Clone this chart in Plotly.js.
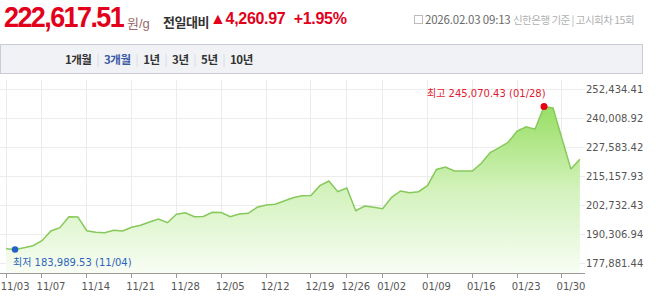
<!DOCTYPE html>
<html>
<head>
<meta charset="utf-8">
<script src="https://cdn.plot.ly/plotly-3.0.1.min.js"></script>
<style>
  html, body { margin:0; padding:0; width:658px; height:300px; overflow:hidden; background:#fff; }
  #chart { position:absolute; left:0; top:0; width:658px; height:300px; }
  .hdr { position:absolute; white-space:nowrap; font-family:"Liberation Sans", Arial, "Noto Sans CJK KR", sans-serif; }
  #price { left:4px; top:1px; font-size:29px; font-weight:bold; color:#e3001b; letter-spacing:-1.7px; transform:scaleX(0.93); transform-origin:left top; }
  #unit { left:127px; top:13px; font-size:13px; color:#9a6a6a; }
  #cmp { left:163px; top:12px; font-size:13px; color:#333; font-family:"Noto Sans CJK KR", sans-serif; font-weight:bold; letter-spacing:-0.5px; }
  #chg { left:210px; top:10px; font-size:16px; font-weight:bold; color:#e3001b; letter-spacing:-0.3px; }
  #time { left:414px; top:11px; font-size:11.5px; color:#6a6a6a; font-family:"Noto Sans CJK KR", sans-serif; letter-spacing:-0.2px; }
  #time .ico { display:inline-block; width:7px; height:7px; border:1px solid #bbb; margin-right:2px; vertical-align:0px; }
  #time .lt { color:#b0b0b0; font-size:10.5px; letter-spacing:-0.5px; }
  #tabs { position:absolute; left:0; top:44px; width:321px; height:28px; background:#f1f2f6; border:1px solid #c9ccd6; }
  #tabs2 { position:absolute; left:322px; top:44px; width:320px; height:28px; background:#f1f2f6; border:1px solid #c9ccd6; border-left:none; }
  #tabtxt { position:absolute; left:65px; top:51px; font-family:"Noto Sans CJK KR", sans-serif; font-size:11.5px; font-weight:bold; color:#333; white-space:nowrap; letter-spacing:-0.5px; }
  #tabtxt .on { color:#3b5aa8; }
  #tabtxt .sep { color:#d5d7de; font-weight:normal; margin:0 5px; }
</style>
</head>
<body>
<div id="chart"></div>
<div class="hdr" id="price">222,617.51</div>
<div class="hdr" id="unit">원/g</div>
<div class="hdr" id="cmp">전일대비</div>
<div class="hdr" id="chg">▲4,260.97&nbsp; +1.95%</div>
<div class="hdr" id="time"><span class="ico"></span>2026.02.03 09:13 <span class="lt">신한은행 기준 | 고시회차 15회</span></div>
<div id="tabs"></div>
<div id="tabs2"></div>
<div id="tabtxt">1개월<span class="sep">|</span><span class="on">3개월</span><span class="sep">|</span>1년<span class="sep">|</span>3년<span class="sep">|</span>5년<span class="sep">|</span>10년</div>
<script>
// Trading days (MM/DD)
const dates = [
  '11/03','11/04','11/05','11/06','11/07','11/10','11/11','11/12','11/13','11/14',
  '11/17','11/18','11/19','11/20','11/21','11/24','11/25','11/26','11/27','11/28',
  '12/01','12/02','12/03','12/04','12/05','12/08','12/09','12/10','12/11','12/12',
  '12/15','12/16','12/17','12/18','12/19','12/22','12/23','12/24','12/26','12/29',
  '12/30','12/31','01/02','01/05','01/06','01/07','01/08','01/09','01/12','01/13',
  '01/14','01/15','01/16','01/19','01/20','01/21','01/22','01/23','01/26','01/27',
  '01/28','01/29','01/30','02/02','02/03'
];
// Gold price (KRW per gram)
const prices = [
  184370, 183989.53, 184797, 185651, 187786, 191928, 193337, 198034, 197950, 192056,
  191373, 191202, 192227, 191928, 193508, 194362, 195771, 197052, 195472, 199059,
  199742, 198034, 198150, 199913, 199850, 198034, 199187, 199486, 202048, 203030,
  203329, 204738, 206147, 206958, 207050, 211271, 213278, 208709, 210289, 200596,
  202603, 202048, 201450, 206318, 209008, 208282, 208709, 211271, 218189, 219256,
  217548, 217500, 217560, 220836, 225448, 227497, 229803, 234628, 236464, 235397,
  245070.43, 244492, 231212, 218356.54, 222617.51
];
const xTickDates = ['11/03','11/07','11/14','11/21','11/28','12/05','12/12','12/19','12/26','01/02','01/09','01/16','01/23','01/30'];
const yTickVals = [177881.44, 190306.94, 202732.43, 215157.93, 227583.42, 240008.92, 252434.41];
const yTickText = ['177,881.44','190,306.94','202,732.43','215,157.93','227,583.42','240,008.92','252,434.41'];

let iMax = 0, iMin = 0;
prices.forEach((v, i) => { if (v > prices[iMax]) iMax = i; if (v < prices[iMin]) iMin = i; });
const fmt = v => v.toLocaleString('en-US', {minimumFractionDigits: 2, maximumFractionDigits: 2});

const traces = [
  {
    x: dates, y: prices, type: 'scatter', mode: 'lines',
    line: {color: '#86c95a', width: 1.5},
    fill: 'tozeroy',
    fillgradient: {type: 'vertical', start: 174000, stop: 245070,
      colorscale: [[0, '#f8fdf4'], [0.5, '#d3f2bc'], [1, '#98de64']]},
    hoverinfo: 'skip'
  },
  {
    x: [dates[iMax]], y: [prices[iMax]], type: 'scatter', mode: 'markers',
    marker: {color: '#e60012', size: 7}, hoverinfo: 'skip'
  },
  {
    x: [dates[iMin]], y: [prices[iMin]], type: 'scatter', mode: 'markers',
    marker: {color: '#2262c6', size: 6.5}, hoverinfo: 'skip'
  }
];

const layout = {
  width: 658, height: 300,
  margin: {l: 0, r: 73, t: 80, b: 27},
  paper_bgcolor: 'rgba(0,0,0,0)', plot_bgcolor: '#fff',
  showlegend: false,
  font: {family: 'DejaVu Sans, "Noto Sans CJK KR", sans-serif', size: 10, color: '#555'},
  xaxis: {
    type: 'category', categoryorder: 'array', categoryarray: dates,
    range: [-0.68, 64.57],
    tickmode: 'array', tickvals: xTickDates, ticktext: xTickDates,
    ticklabelshift: 9,
    showgrid: true, gridcolor: '#ececec', gridwidth: 1,
    showline: true, linecolor: '#9a9a9a', linewidth: 1,
    ticks: 'outside', ticklen: 4, tickcolor: '#9a9a9a',
    tickfont: {family: 'DejaVu Sans', size: 10, color: '#555'},
    zeroline: false, fixedrange: true
  },
  yaxis: {
    side: 'right',
    range: [173994, 256405],
    tickmode: 'array', tickvals: yTickVals, ticktext: yTickText,
    showgrid: true, gridcolor: '#ececec', gridwidth: 1,
    showline: false, zeroline: false, ticks: '',
    tickfont: {family: 'DejaVu Sans', size: 10, color: '#555'},
    fixedrange: true
  },
  annotations: [
    {
      x: dates[iMax], y: prices[iMax], xref: 'x', yref: 'y',
      text: '최고 ' + fmt(prices[iMax]) + ' (' + dates[iMax] + ')',
      showarrow: false, xanchor: 'right', yanchor: 'middle', xshift: 4, yshift: 13,
      font: {family: 'DejaVu Sans, "Noto Sans CJK KR"', size: 10, color: '#e2192f'}
    },
    {
      x: dates[iMin], y: prices[iMin], xref: 'x', yref: 'y',
      text: '최저 ' + fmt(prices[iMin]) + ' (' + dates[iMin] + ')',
      showarrow: false, xanchor: 'left', yanchor: 'middle', xshift: -4, yshift: -13,
      font: {family: 'DejaVu Sans, "Noto Sans CJK KR"', size: 10, color: '#2e64b9'}
    }
  ]
};

Plotly.newPlot('chart', traces, layout, {displayModeBar: false, staticPlot: true});
</script>
</body>
</html>
